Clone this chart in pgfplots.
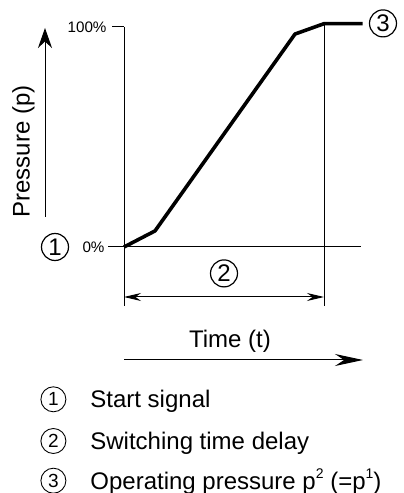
\documentclass[border=0pt]{standalone}
\usepackage{fontspec}
\setmainfont{Liberation Sans}
\usepackage{pgfplots}
\pgfplotsset{compat=1.18}
\usetikzlibrary{arrows.meta}
\newcommand{\supnum}[1]{\raisebox{0.85ex}{\fontsize{7}{8}\selectfont #1}}
\begin{document}
\fontsize{12}{14}\selectfont
\begin{tikzpicture}
\path[use as bounding box] (0,0) rectangle (201.5pt,246.5pt);
\begin{axis}[at={(62pt,123pt)}, anchor=south west, scale only axis,
  width=118.5pt, height=110pt, xmin=0, xmax=11.85, ymin=0, ymax=100,
  axis lines=none, clip=false]
  % axes and guide lines
  \draw[line width=0.5pt] (axis cs:0,100) -- (axis cs:0,-26.8);
  \draw[line width=0.5pt] (axis cs:10,101.5) -- (axis cs:10,-26.8);
  \draw[line width=0.5pt] (axis cs:0,0) -- (axis cs:11.85,0);
  % ticks
  \draw[line width=0.5pt] (axis cs:0,100) -- ++(-6pt,0) node[anchor=east, inner sep=0pt, xshift=-2.5pt, font=\fontsize{7.6}{9}\selectfont] {100\%};
  \draw[line width=0.5pt] (axis cs:0,0) -- ++(-8pt,0) node[anchor=east, inner sep=0pt, xshift=-1.5pt, font=\fontsize{7.6}{9}\selectfont] {0\%};
  % curve
  \addplot[line width=1.8pt, line join=round, black] coordinates {
    (0,0) (1.55,7.3) (8.55,96.8) (10,101.5) (11.93,101.5)};
\end{axis}
% y arrow and label
\draw[line width=0.5pt, -{Stealth[length=10pt,width=7pt]}] (22.5pt,138pt) -- (22.5pt,232.5pt);
\node[rotate=90, anchor=base] at (14.8pt,170.75pt) {Pressure (p)};
% dimension arrow
\draw[line width=0.5pt, {Stealth[length=8.5pt,width=4pt]}-{Stealth[length=8.5pt,width=4pt]}] (62pt,98pt) -- (162pt,98pt);
% time arrow and label
\draw[line width=0.5pt, -{Stealth[length=14pt,width=6pt]}] (62pt,66.5pt) -- (181.5pt,66.5pt);
\node[anchor=base] at (115pt,72.5pt) {Time (t)};
% circled numbers in the chart
\node[draw, circle, line width=0.6pt, minimum size=13.5pt, inner sep=0pt] at (27.5pt,123pt) {1};
\node[draw, circle, line width=0.6pt, minimum size=13.5pt, inner sep=0pt] at (112pt,109.8pt) {2};
\node[draw, circle, line width=0.6pt, minimum size=13.5pt, inner sep=0pt] at (191.5pt,234.8pt) {3};
% legend
\node[draw, circle, line width=0.45pt, minimum size=12.5pt, inner sep=0pt, font=\fontsize{9.5}{11}\selectfont] at (26.7pt,46.85pt) {1};
\node[anchor=base west, inner sep=0pt] at (45pt,42.55pt) {Start signal};
\node[draw, circle, line width=0.45pt, minimum size=12.5pt, inner sep=0pt, font=\fontsize{9.5}{11}\selectfont] at (26.7pt,26pt) {2};
\node[anchor=base west, inner sep=0pt] at (45pt,21.7pt) {Switching time delay};
\node[draw, circle, line width=0.45pt, minimum size=12.5pt, inner sep=0pt, font=\fontsize{9.5}{11}\selectfont] at (26.7pt,6.15pt) {3};
\node[anchor=base west, inner sep=0pt] at (45pt,1.85pt) {Operating pressure p\supnum{2} (=p\supnum{1})};
\end{tikzpicture}
\end{document}
